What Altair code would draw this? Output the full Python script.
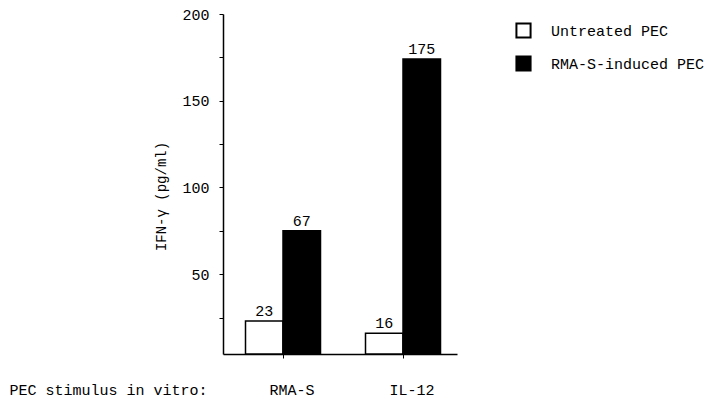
import altair as alt
import pandas as pd

stimulus = ["RMA-S", "RMA-S", "IL-12", "IL-12"]
treatment = ["Untreated PEC", "RMA-S-induced PEC", "Untreated PEC", "RMA-S-induced PEC"]
bar_height = [23, 75, 16, 174]
bar_label = ["23", "67", "16", "175"]
y_ticks = [25, 50, 75, 100, 125, 150, 175, 200]
y_min = 4

df = pd.DataFrame({"stimulus": stimulus, "treatment": treatment,
                   "value": bar_height, "label": bar_label})

FONT = "Liberation Mono"
x_order = ["RMA-S", "IL-12"]
t_order = ["Untreated PEC", "RMA-S-induced PEC"]

x_enc = alt.X("stimulus:N", sort=x_order,
              scale=alt.Scale(paddingInner=0.375, paddingOuter=0.1625, align=0.577),
              axis=alt.Axis(title="PEC stimulus in vitro:", titleX=-214, titleY=35,
                            titleAlign="left", titleBaseline="middle", titleFontWeight="normal",
                            titleFontSize=15, titleFont=FONT, labelAngle=0, labelFont=FONT,
                            labelFontSize=15, labelBaseline="middle", labelPadding=31,
                            labelOffset=9, tickSize=4, tickColor="black", domainColor="black",
                            domainWidth=1.5, labelColor="black", titleColor="black"))
y_scale = alt.Scale(domain=[y_min, 200], zero=False, nice=False)
xo = alt.XOffset("treatment:N", sort=t_order)

bars = alt.Chart(df).mark_bar(stroke="black", strokeWidth=1.5).encode(
    x=x_enc,
    xOffset=xo,
    y=alt.Y("value:Q", scale=y_scale,
            axis=alt.Axis(title="IFN-γ (pg/ml)", values=y_ticks,
                          labelExpr="datum.value % 50 == 0 ? datum.label : ''",
                          titleX=-62, titleY=182, titleFont=FONT, titleFontSize=14,
                          titleFontWeight="normal", titleBaseline="middle", titleColor="black",
                          labelFont=FONT, labelFontSize=15, labelColor="black",
                          labelPadding=10, tickSize=4, tickColor="black",
                          domainColor="black", domainWidth=1.5, grid=False)),
    y2=alt.datum(y_min),
    fill=alt.Fill("treatment:N", sort=t_order,
                  scale=alt.Scale(domain=t_order, range=["white", "black"]),
                  legend=alt.Legend(title=None, orient="none", legendX=292, legendY=8,
                                    symbolType="square", symbolSize=200,
                                    symbolStrokeColor="black", symbolStrokeWidth=2,
                                    labelFont=FONT, labelFontSize=15, labelColor="black",
                                    labelOffset=19, rowPadding=10, labelLimit=300)),
)

labels = alt.Chart(df).mark_text(baseline="bottom", dy=-2, font=FONT, fontSize=15,
                                 color="black").encode(
    x=alt.X("stimulus:N", sort=x_order),
    xOffset=xo,
    y=alt.Y("value:Q", scale=y_scale),
    text="label:N",
)

chart = (bars + labels).properties(
    width=234, height=340,
    autosize=alt.AutoSizeParams(type="none"),
    padding={"left": 215, "top": 6, "right": 255, "bottom": 44},
).configure_view(stroke=None)

chart.save("out.html", embed_options={"renderer": "svg", "actions": False})
